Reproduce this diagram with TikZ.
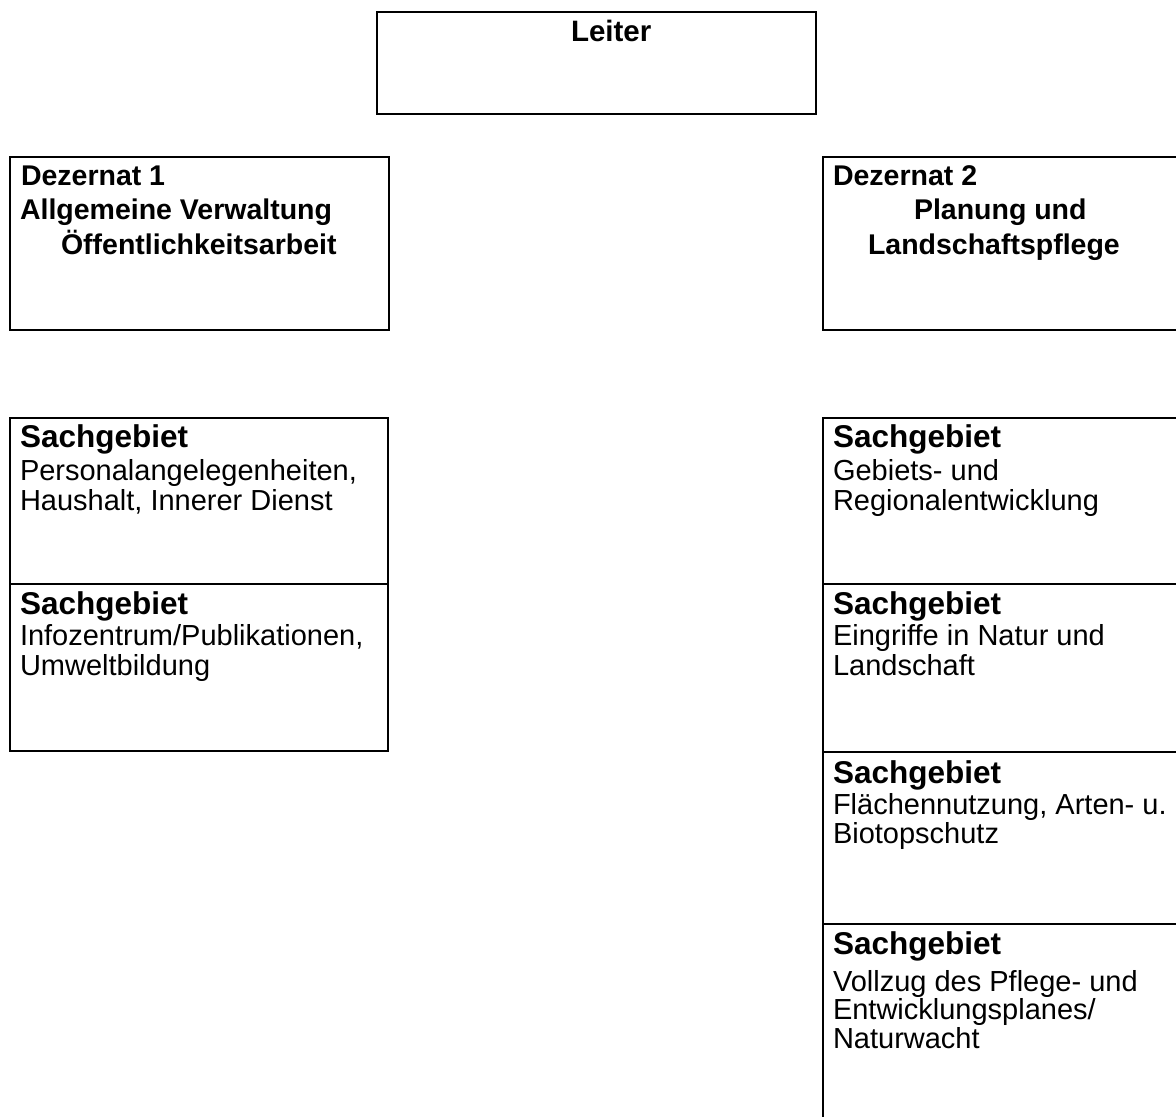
\documentclass[tikz,border=0pt]{standalone}
\usepackage{fontspec}
\setmainfont{Liberation Sans}[Ligatures=NoCommon]
\begin{document}
\begin{tikzpicture}[x=1pt,y=1pt,
  box/.style={draw=black,line width=2.9pt,inner sep=0pt,outer sep=0pt,anchor=north west},
  txt/.style={inner sep=0pt,outer sep=0pt,anchor=base west},
  bigb/.style={txt,font=\fontsize{31.5}{35}\selectfont\bfseries},
  hdb/.style={txt,font=\fontsize{28.5}{32}\selectfont\bfseries},
  reg/.style={txt,font=\fontsize{29}{33}\selectfont}]
\useasboundingbox (0,0) rectangle (1176,-1117);
\clip (0,0) rectangle (1176,-1117);
% Leiter
\node[box,minimum width=439pt,minimum height=102pt] (leiter) at (377,-12) {};
\node[txt,font=\fontsize{29.5}{33}\selectfont\bfseries] (tleiter) at (571,-41) {Leiter};
% Dezernat 1
\node[box,minimum width=379pt,minimum height=173pt] (dez1) at (10,-157) {};
\node[hdb] (d1a) at (21,-185) {Dezernat 1};
\node[hdb] (d1b) at (20,-219) {Allgemeine Verwaltung};
\node[hdb] (d1c) at (61,-254) {Öffentlichkeitsarbeit};
% Dezernat 2
\node[box,minimum width=400pt,minimum height=173pt] (dez2) at (823,-157) {};
\node[hdb] (d2a) at (833,-185) {Dezernat 2};
\node[hdb] (d2b) at (914,-219) {Planung und};
\node[hdb] (d2c) at (868,-254) {Landschaftspflege};
% Left Sachgebiete
\node[box,minimum width=378pt,minimum height=166pt] (l1) at (10,-418) {};
\node[bigb] (l1a) at (20,-447) {Sachgebiet};
\node[reg] (l1b) at (20,-480) {Personalangelegenheiten,};
\node[reg] (l1c) at (20,-510) {Haushalt, Innerer Dienst};
\node[box,minimum width=378pt,minimum height=167pt] (l2) at (10,-584) {};
\node[bigb] (l2a) at (20,-614) {Sachgebiet};
\node[reg] (l2b) at (20,-645) {Infozentrum/Publikationen,};
\node[reg] (l2c) at (20,-675) {Umweltbildung};
% Right Sachgebiete
\node[box,minimum width=400pt,minimum height=166pt] (r1) at (823,-418) {};
\node[bigb] (r1a) at (833,-447) {Sachgebiet};
\node[reg] (r1b) at (833,-480) {Gebiets- und};
\node[reg] (r1c) at (833,-510) {Regionalentwicklung};
\node[box,minimum width=400pt,minimum height=168pt] (r2) at (823,-584) {};
\node[bigb] (r2a) at (833,-614) {Sachgebiet};
\node[reg] (r2b) at (833,-645) {Eingriffe in Natur und};
\node[reg] (r2c) at (833,-675) {Landschaft};
\node[box,minimum width=400pt,minimum height=172pt] (r3) at (823,-752) {};
\node[bigb] (r3a) at (833,-783) {Sachgebiet};
\node[reg] (r3b) at (833,-814) {Flächennutzung, Arten- u.};
\node[reg] (r3c) at (833,-843) {Biotopschutz};
\node[box,minimum width=400pt,minimum height=230pt] (r4) at (823,-924) {};
\node[bigb] (r4a) at (833,-954) {Sachgebiet};
\node[reg] (r4b) at (833,-991) {Vollzug des Pflege- und};
\node[reg] (r4c) at (833,-1019) {Entwicklungsplanes/};
\node[reg] (r4d) at (833,-1048) {Naturwacht};
\end{tikzpicture}
\end{document}
